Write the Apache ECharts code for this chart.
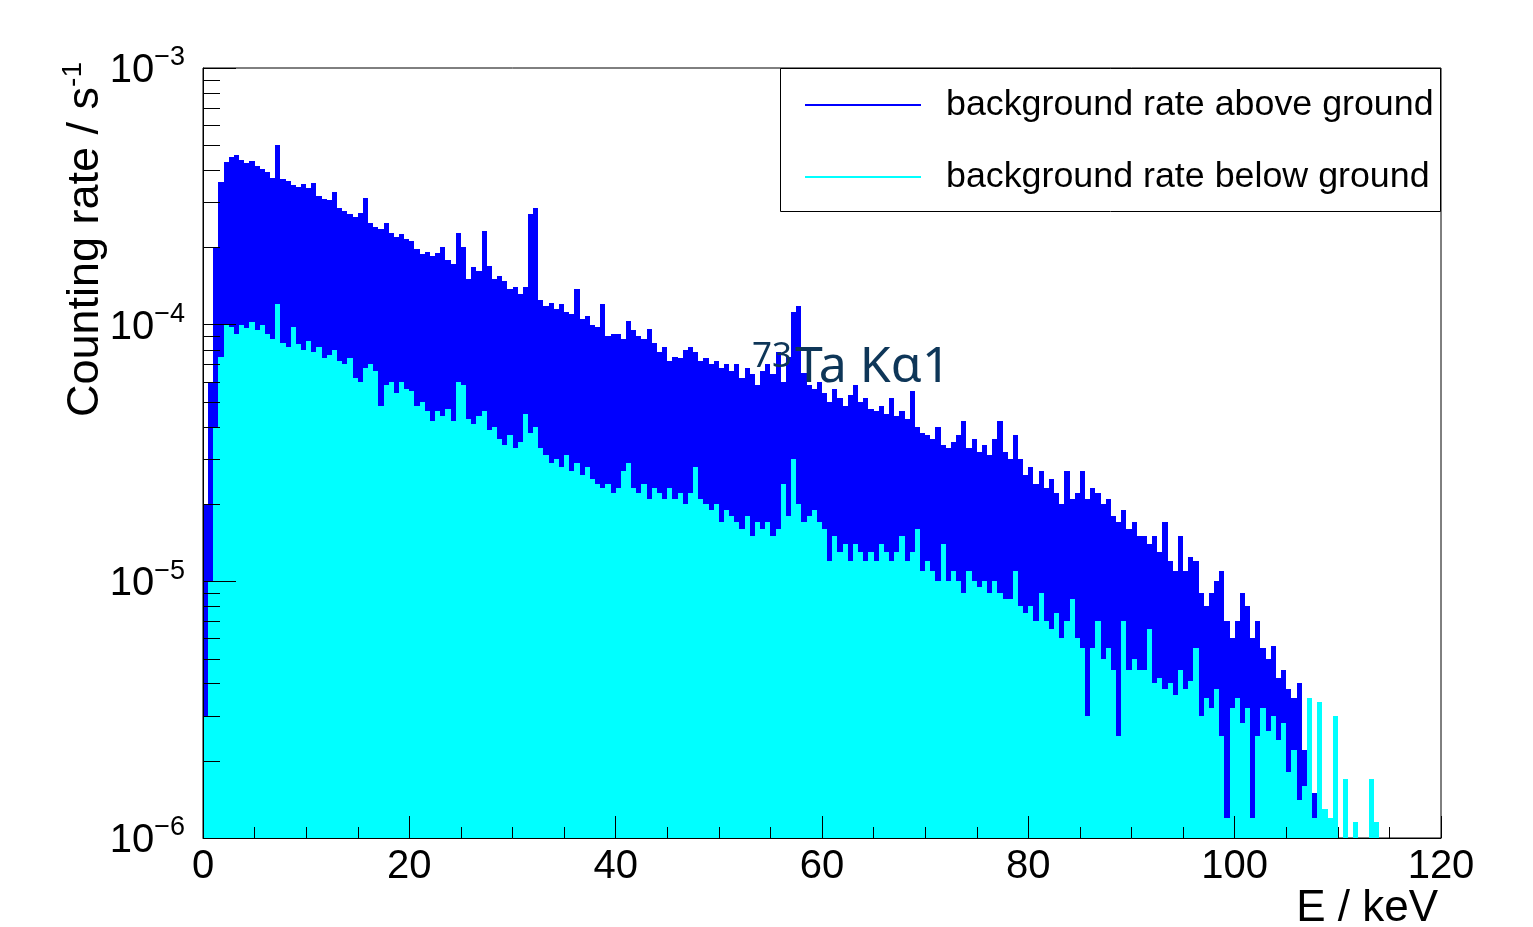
<!DOCTYPE html>
<html>
<head>
<meta charset="utf-8">
<script src="https://cdn.jsdelivr.net/npm/echarts@6/dist/echarts.min.js"></script>
<style>
html, body { margin: 0; background: #fff; }
#chart { width: 1533px; height: 927px; }
</style>
</head>
<body>
<div id="chart"></div>
<script>
// histogram bins of 0.5 keV starting at 0 keV, rates in units of 1e-6 / s (null = empty bin)
const binWidth = 0.5;
const rateUnit = 1e-6;
const seriesNames = ['background rate above ground', 'background rate below ground'];
const yDecades = [-6, -5, -4, -3];

const aboveGround = [
  20, 60, 200, 360, 430, 450, 460, 440, 425, 435,
  415, 405, 395, 372, 500, 370, 362, 350, 345, 352,
  340, 355, 318, 310, 305, 330, 285, 278, 270, 262,
  272, 312, 248, 240, 236, 250, 228, 220, 225, 215,
  212, 198, 188, 192, 185, 190, 200, 178, 172, 228,
  200, 150, 168, 162, 232, 170, 150, 155, 148, 138,
  140, 132, 140, 270, 285, 125, 118, 122, 115, 120,
  112, 110, 138, 105, 108, 100, 98, 120, 90, 92,
  92, 88, 103, 95, 90, 88, 96, 85, 78, 82,
  72, 75, 74, 80, 82, 78, 72, 74, 70, 72,
  68, 70, 66, 70, 62, 68, 64, 58, 66, 70,
  64, 78, 60, 75, 112, 118, 65, 58, 56, 60,
  54, 50, 56, 52, 48, 53, 58, 50, 52, 47,
  46, 48, 45, 52, 44, 46, 43, 55, 40, 38,
  37, 36, 40, 34, 33, 35, 37, 42, 33, 36,
  32, 34, 31, 36, 42, 32, 30, 37, 30, 26,
  28, 24, 27, 23, 25, 22, 20, 27, 21, 22,
  27, 21, 23, 22, 20, 21, 18, 17, 19, 16,
  17, 15, 15, 14, 15, 13, 17, 12, 11, 15,
  11, 12.4, 12, 9, 8, 9, 10, 11, 7, 6,
  7, 9, 8, 6, 7, 5.5, 5, 5.6, 4.2, 4.5,
  3.8, 3.5, 4, 2.2, 1.8, 1.5, 1.3, null, null, 1.1
];

const belowGround = [
  3, 10, 40, 75, 100, 98, 92, 100, 97, 102,
  95, 100, 92, 88, 120, 85, 82, 98, 84, 80,
  86, 78, 82, 74, 76, 80, 72, 70, 74, 62,
  60, 68, 70, 66, 48, 58, 60, 54, 60, 56,
  55, 48, 50, 46, 42, 46, 44, 47, 42, 60,
  58, 43, 41, 44, 46, 39, 40, 36, 34, 37,
  33, 35, 45, 38, 40, 33, 31, 29, 30, 28,
  31, 27, 29, 26, 28, 25, 24, 23, 24, 22,
  23, 27, 29, 23, 22, 24, 21, 23, 22, 21,
  23, 21, 22, 20, 22, 28, 21, 20, 19, 20,
  17, 19, 18, 17, 16, 18, 15, 17, 16, 17,
  15, 16, 24, 18, 30, 20, 17, 18, 19, 17,
  16, 12, 15, 13, 14, 12, 14, 13, 12, 13,
  12, 14, 13, 12, 13, 15, 12, 13, 16, 11,
  12, 11, 10, 14, 10, 11, 10, 9, 11, 10,
  9.5, 10, 9, 10, 9, 8.5, 8.5, 11, 8, 7.5,
  8, 7, 9, 7, 6.5, 7.5, 6, 7, 8.5, 6,
  5.5, 3, 5.5, 7, 5, 5.5, 4.5, 2.5, 7, 4.5,
  5, 4.5, 4.5, 6.5, 4, 4.2, 3.8, 4, 3.6, 4.5,
  3.8, 4.1, 5.5, 3, 3.5, 3.2, 3.8, 2.5, 1.2, 3.2,
  3.5, 2.8, 3.2, 1.2, 2.5, 3.2, 2.6, 3, 2.4, 2.8,
  1.8, 2.2, 1.4, 1.6, 3.5, 1.2, 3.4, 1.3, 1.2, 3.0,
  null, 1.7, null, 1.15, null, null, 1.7, 1.15
];

const font = 'Liberation Sans, Arial, Helvetica, sans-serif';
const yMin = 1e-6, yMax = 1e-3;

function binData(values) {
  const out = [];
  values.forEach((v, i) => {
    if (v != null) out.push([i * binWidth, v * rateUnit]);
  });
  return out;
}

function histSeries(name, values, color) {
  return {
    type: 'custom',
    name: name,
    itemStyle: { color: color },
    encode: { x: 0, y: 1 },
    clip: true,
    data: binData(values),
    renderItem: function (params, api) {
      const e0 = api.value(0);
      const top = api.coord([e0, api.value(1)]);
      const bot = api.coord([e0 + binWidth, yMin]);
      // snap to whole pixels so neighbouring bins join without seams
      const x0 = Math.round(top[0]), x1 = Math.round(bot[0]);
      const y0 = Math.round(top[1]), y1 = Math.round(bot[1]);
      return {
        type: 'rect',
        shape: { x: x0, y: y0, width: x1 - x0, height: y1 - y0 },
        style: { fill: color, stroke: null }
      };
    }
  };
}

const chart = echarts.init(document.getElementById('chart'));
chart.setOption({
  animation: false,
  grid: {
    left: 203, right: 92, top: 68, bottom: 89, outerBoundsMode: 'none',
    show: true, borderColor: '#000', borderWidth: 1, backgroundColor: 'transparent'
  },
  xAxis: {
    type: 'value', min: 0, max: 120, interval: 20, z: 10,
    axisLine: { lineStyle: { color: '#000', width: 1 } },
    axisTick: { inside: true, length: 22, lineStyle: { color: '#000' } },
    minorTick: { show: true, splitNumber: 4, length: 11, lineStyle: { color: '#000' } },
    splitLine: { show: false },
    axisLabel: { fontFamily: font, fontSize: 40, color: '#000', margin: 9 }
  },
  yAxis: {
    type: 'log', logBase: 10, min: yMin, max: yMax, z: 10,
    axisLine: { show: true, lineStyle: { color: '#000', width: 1 } },
    axisTick: { show: true, inside: true, length: 33, lineStyle: { color: '#000' } },
    splitLine: { show: false },
    axisLabel: {
      margin: 18,
      formatter: function (v) {
        const p = Math.round(Math.log10(v));
        return '{b|10}{s|\u2212' + (-p) + '}';
      },
      rich: {
        b: { fontFamily: font, fontSize: 40, color: '#000', padding: [6, 0, 0, 0] },
        s: { fontFamily: font, fontSize: 27, color: '#000', padding: [0, 0, 20, 0] }
      }
    }
  },
  legend: {
    orient: 'vertical', left: 805, top: 80, padding: 0, itemWidth: 116, itemHeight: 2, itemGap: 22,
    icon: 'rect',
    textStyle: { fontFamily: font, fontSize: 35.8, lineHeight: 40, color: '#000', padding: [10, 0, 0, 20] },
    data: seriesNames
  },
  series: [
    histSeries(seriesNames[0], aboveGround, '#0000ff'),
    histSeries(seriesNames[1], belowGround, '#00ffff')
  ]
});

// log-axis minor ticks at 2..9 x 10^n, legend frame, titles
const graphics = [];
yDecades.slice(0, -1).forEach(function (p) {
  for (let m = 2; m <= 9; m++) {
    const y = Math.round(chart.convertToPixel({ yAxisIndex: 0 }, m * Math.pow(10, p))) + 0.5;
    graphics.push({ type: 'line', z: 100, shape: { x1: 203, y1: y, x2: 220, y2: y }, style: { stroke: '#000', lineWidth: 1 } });
  }
});
graphics.push({ type: 'rect', z: 100, shape: { x: 780.5, y: 68.5, width: 660, height: 143 }, style: { fill: null, stroke: '#000', lineWidth: 1 } });
graphics.push({
  type: 'text', z: 100, x: 86, y: 62, rotation: Math.PI / 2,
  style: {
    text: '{t|Counting rate / s}{s|-1}', align: 'right', verticalAlign: 'middle',
    rich: {
      t: { fontFamily: font, fontSize: 45, fill: '#000' },
      s: { fontFamily: font, fontSize: 28, fill: '#000', padding: [0, 0, 26, 0] }
    }
  }
});
graphics.push({ type: 'text', z: 100, x: 1438, y: 909, style: { text: 'E / keV', fontFamily: font, fontSize: 44, fill: '#000', align: 'right', verticalAlign: 'middle' } });
graphics.push({ type: 'text', z: 100, x: 752, y: 357, style: { text: '73', fontFamily: 'Noto Sans', fontSize: 35, fill: '#0e3658', align: 'left', verticalAlign: 'middle' } });
graphics.push({ type: 'text', z: 100, x: 795, y: 368, style: { text: 'Ta K\u03b11', fontFamily: 'Noto Sans', fontSize: 50, fill: '#0e3658', align: 'left', verticalAlign: 'middle' } });
chart.setOption({ graphic: graphics });
</script>
</body>
</html>
